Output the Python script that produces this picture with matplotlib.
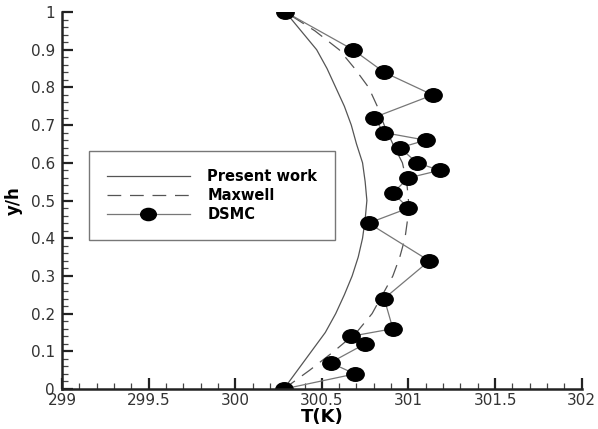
import numpy as np
import matplotlib
matplotlib.use("Agg")
import matplotlib.pyplot as plt
from matplotlib.path import Path
from matplotlib.ticker import MultipleLocator, FuncFormatter

# values
y_curve = [0.0, 0.05, 0.1, 0.15, 0.2, 0.25, 0.3, 0.35, 0.4, 0.45, 0.5,
           0.55, 0.6, 0.65, 0.7, 0.75, 0.8, 0.85, 0.9, 0.95, 1.0]
t_present = [300.28, 300.36, 300.44, 300.52, 300.58, 300.63, 300.675, 300.71, 300.735, 300.75, 300.76,
             300.75, 300.735, 300.70, 300.67, 300.63, 300.58, 300.53, 300.47, 300.38, 300.29]
t_maxwell = [300.28, 300.43, 300.57, 300.70, 300.79, 300.85, 300.91, 300.95, 300.98, 300.995, 301.0,
             300.99, 300.965, 300.91, 300.86, 300.82, 300.77, 300.69, 300.60, 300.46, 300.29]

y_dsmc = [1.0, 0.90, 0.84, 0.78, 0.72, 0.68, 0.66, 0.64, 0.60, 0.58, 0.56,
          0.52, 0.48, 0.44, 0.34, 0.24, 0.16, 0.14, 0.12, 0.07, 0.04, 0.0]
t_dsmc = [300.29, 300.68, 300.86, 301.14, 300.80, 300.86, 301.10, 300.95, 301.05, 301.18, 301.0,
          300.91, 301.0, 300.77, 301.12, 300.86, 300.91, 300.67, 300.75, 300.55, 300.69, 300.28]

# slightly flattened dot, like the stretched original
circ = Path.unit_circle()
ellipse = Path(circ.vertices * np.array([1.0, 0.78]), circ.codes)

fig = plt.figure(figsize=(5.98, 4.29), dpi=100)
ax = fig.add_axes([0.1037, 0.0932, 0.8690, 0.8788])

ax.plot(t_present, y_curve, color="#555555", lw=0.9, label="Present work")
ax.plot(t_maxwell, y_curve, color="#555555", lw=0.9, dashes=(11, 7), label="Maxwell")
ax.plot(t_dsmc, y_dsmc, color="#777777", lw=0.9, marker=ellipse, markersize=12.5,
        markerfacecolor="black", markeredgecolor="black", label="DSMC")

ax.set_xlim(299, 302)
ax.set_ylim(0, 1)
ax.xaxis.set_major_locator(MultipleLocator(0.5))
ax.xaxis.set_minor_locator(MultipleLocator(0.1))
ax.yaxis.set_major_locator(MultipleLocator(0.1))
ax.yaxis.set_minor_locator(MultipleLocator(0.02))
fmt = FuncFormatter(lambda v, p: "%g" % round(v, 3))
ax.xaxis.set_major_formatter(fmt)
ax.yaxis.set_major_formatter(fmt)

for s in ["top", "right"]:
    ax.spines[s].set_visible(False)
for s in ["left", "bottom"]:
    ax.spines[s].set_linewidth(1.8)
    ax.spines[s].set_color("#222222")

ax.tick_params(which="major", direction="in", length=8, width=1.6, color="#222222",
               labelsize=11, labelcolor="#333333", pad=3)
ax.tick_params(which="minor", direction="in", length=4.5, width=0.9, color="#444444")
ax.tick_params(axis="y", which="major", pad=5)

ax.set_xlabel("T(K)", fontsize=13, fontweight="bold", labelpad=0)
ax.set_ylabel("y/h", fontsize=12, fontweight="bold", labelpad=6)

leg = ax.legend(loc="upper left", bbox_to_anchor=(0.0525, 0.631), borderaxespad=0,
                fancybox=False, edgecolor="#777777", framealpha=1,
                prop={"weight": "bold", "size": 10.5},
                handlelength=5.7, handletextpad=1.2, borderpad=1.2, labelspacing=0.3,
                markerscale=0.9)
leg.get_frame().set_linewidth(1.0)

fig.savefig("out.png", dpi=100)
